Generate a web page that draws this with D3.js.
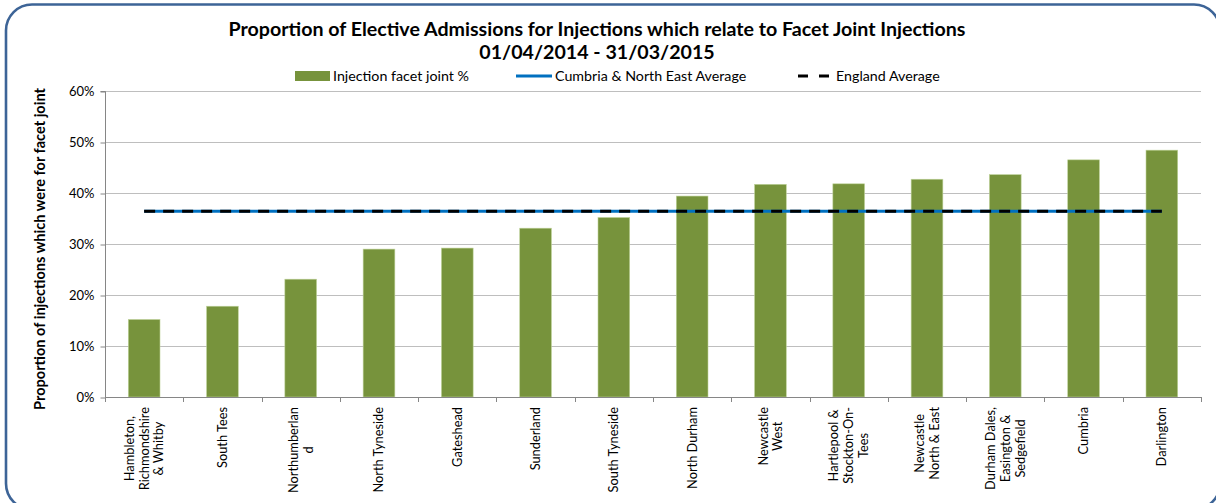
<!DOCTYPE html>
<html>
<head>
<meta charset="utf-8">
<script src="https://cdn.jsdelivr.net/npm/d3@7/dist/d3.min.js"></script>
<style>
  html, body { margin: 0; padding: 0; background: #fff; }
  svg { display: block; font-family: Lato, "Open Sans", sans-serif; }
</style>
</head>
<body>
<svg id="chart" width="1216" height="503"></svg>
<script>
// Localities (each entry split into its wrapped label lines)
const categories = [
  ["Hambleton,", "Richmondshire", "& Whitby"],
  ["South Tees"],
  ["Northumberlan", "d"],
  ["North Tyneside"],
  ["Gateshead"],
  ["Sunderland"],
  ["South Tyneside"],
  ["North Durham"],
  ["Newcastle", "West"],
  ["Hartlepool &", "Stockton-On-", "Tees"],
  ["Newcastle", "North & East"],
  ["Durham Dales,", "Easington &", "Sedgefield"],
  ["Cumbria"],
  ["Darlington"]
];

// Share of injection admissions that were facet joint injections
const facetJointPct = [0.152, 0.178, 0.231, 0.290, 0.292, 0.331, 0.352,
                       0.394, 0.417, 0.418, 0.427, 0.436, 0.465, 0.484];

// Reference averages drawn across all localities
const cneAverage = 0.364;
const englandAverage = 0.364;

const yTicks = [0, 0.1, 0.2, 0.3, 0.4, 0.5, 0.6];

const titleLines = [
  "Proportion of Elective Admissions for Injections which relate to Facet Joint Injections",
  "01/04/2014 - 31/03/2015"
];
const yAxisTitle = "Proportion of injections which were for facet joint";
const legendLabels = ["Injection facet joint %", "Cumbria & North East Average", "England Average"];

const svg = d3.select("#chart");
const plot = { left: 105, right: 1201, top: 91, bottom: 397 };

const keys = categories.map(c => c.join(" "));
const x = d3.scaleBand().domain(keys).range([plot.left, plot.right]).padding(0);
const y = d3.scaleLinear().domain([0, 0.6]).range([plot.bottom, plot.top]);
const barW = x.bandwidth() * 0.405;

// Shrinks or grows a text's font so it spans the given width
function fitWidth(sel, target) {
  const node = sel.node();
  const fs = parseFloat(sel.attr("font-size"));
  const len = node.getComputedTextLength();
  sel.attr("font-size", (fs * target / len).toFixed(2));
}

// Outer rounded frame
svg.append("rect")
  .attr("x", 6).attr("y", 4.5)
  .attr("width", 1214).attr("height", 505)
  .attr("rx", 26).attr("ry", 26)
  .attr("fill", "#fff")
  .attr("stroke", "#3D6497")
  .attr("stroke-width", 2.6);

// Horizontal gridlines
svg.append("g").selectAll("line")
  .data(yTicks.filter(t => t > 0))
  .join("line")
  .attr("x1", plot.left).attr("x2", plot.right)
  .attr("y1", d => Math.round(y(d)) + 0.5).attr("y2", d => Math.round(y(d)) + 0.5)
  .attr("stroke", "#BEBEBE").attr("stroke-width", 1);

// Y axis
const yAxis = d3.axisLeft(y).tickValues(yTicks).tickSize(5).tickPadding(6)
  .tickFormat(d3.format(".0%"));
const gy = svg.append("g").attr("transform", `translate(${plot.left + 0.5},0.5)`).call(yAxis);
gy.select(".domain").attr("stroke", "#868686").attr("d", `M-5,${y(0.6)}H0V${y(0)}`);
gy.selectAll(".tick line").attr("stroke", "#868686");
gy.selectAll(".tick text")
  .attr("font-family", "Lato, sans-serif").attr("font-size", 13).attr("fill", "#000");

// Bars
svg.append("g").selectAll("rect")
  .data(facetJointPct)
  .join("rect")
  .attr("x", (d, i) => x(keys[i]) + (x.bandwidth() - barW) / 2)
  .attr("y", d => y(d))
  .attr("width", barW)
  .attr("height", d => y(0) - y(d))
  .attr("fill", "#77933C")
  .attr("stroke", "#BFD39A")
  .attr("stroke-width", 0.6);

// X axis with category boundary ticks
const gx = svg.append("g");
gx.append("line")
  .attr("x1", plot.left).attr("x2", plot.right)
  .attr("y1", plot.bottom + 0.5).attr("y2", plot.bottom + 0.5)
  .attr("stroke", "#868686");
gx.selectAll("line.tick")
  .data(keys.map(k => x(k)).concat([plot.right]))
  .join("line").attr("class", "tick")
  .attr("x1", d => Math.round(d) + 0.5).attr("x2", d => Math.round(d) + 0.5)
  .attr("y1", plot.bottom).attr("y2", plot.bottom + 5)
  .attr("stroke", "#868686");

// Average lines: solid blue with black dashes laid over it
const avgLine = d3.line().x(d => d[0]).y(d => d[1]);
const firstC = x(keys[0]) + x.bandwidth() / 2;
const lastC = x(keys[keys.length - 1]) + x.bandwidth() / 2;
svg.append("path")
  .attr("d", avgLine([[firstC, y(cneAverage)], [lastC, y(cneAverage)]]))
  .attr("stroke", "#0070C0").attr("stroke-width", 3).attr("fill", "none");
svg.append("path")
  .attr("d", avgLine([[firstC, y(englandAverage)], [lastC, y(englandAverage)]]))
  .attr("stroke", "#000").attr("stroke-width", 3).attr("fill", "none")
  .attr("stroke-dasharray", "11,8");

// Category labels, rotated, lines centred on the longest one
const labelTop = 407;
const lineH = 14.8;
categories.forEach((lines, i) => {
  const cx = x(keys[i]) + x.bandwidth() / 2;
  const g = svg.append("g");
  const texts = lines.map((t, j) => g.append("text")
    .attr("text-anchor", "middle")
    .attr("font-size", 12.8)
    .attr("fill", "#000")
    .attr("y", (j - (lines.length - 1) / 2) * lineH)
    .attr("dy", "0.35em")
    .text(t));
  const maxLen = d3.max(texts, t => t.node().getComputedTextLength());
  g.attr("transform", `translate(${cx},${labelTop + maxLen / 2}) rotate(-90)`);
});

// Y axis title
const yt = svg.append("text")
  .attr("transform", `translate(40,249) rotate(-90)`)
  .attr("text-anchor", "middle")
  .attr("dy", "0.35em")
  .attr("font-weight", "bold")
  .attr("font-size", 13)
  .attr("fill", "#000")
  .text(yAxisTitle);
fitWidth(yt, 322);

// Title
const t1 = svg.append("text")
  .attr("x", 597).attr("y", 36)
  .attr("text-anchor", "middle")
  .attr("font-weight", "bold").attr("font-size", 16).attr("fill", "#000")
  .text(titleLines[0]);
fitWidth(t1, 737);
svg.append("text")
  .attr("x", 597).attr("y", 59)
  .attr("text-anchor", "middle")
  .attr("font-weight", "bold").attr("font-size", +t1.attr("font-size")).attr("fill", "#000")
  .text(titleLines[1]);

// Legend
const leg = svg.append("g");
const ly = 76;
leg.append("rect").attr("x", 295).attr("y", ly - 5).attr("width", 35).attr("height", 10).attr("fill", "#77933C");
const l1 = leg.append("text").attr("x", 333).attr("y", ly).attr("dy", "0.35em")
  .attr("font-size", 13).attr("fill", "#000").text(legendLabels[0]);
fitWidth(l1, 136);
const legFs = +l1.attr("font-size");
leg.append("line").attr("x1", 516).attr("x2", 552).attr("y1", ly).attr("y2", ly)
  .attr("stroke", "#0070C0").attr("stroke-width", 3);
leg.append("text").attr("x", 555).attr("y", ly).attr("dy", "0.35em")
  .attr("font-size", legFs).attr("fill", "#000").text(legendLabels[1]);
leg.append("line").attr("x1", 798).attr("x2", 829).attr("y1", ly).attr("y2", ly)
  .attr("stroke", "#000").attr("stroke-width", 3).attr("stroke-dasharray", "10,11");
leg.append("text").attr("x", 836).attr("y", ly).attr("dy", "0.35em")
  .attr("font-size", legFs).attr("fill", "#000").text(legendLabels[2]);
</script>
</body>
</html>
